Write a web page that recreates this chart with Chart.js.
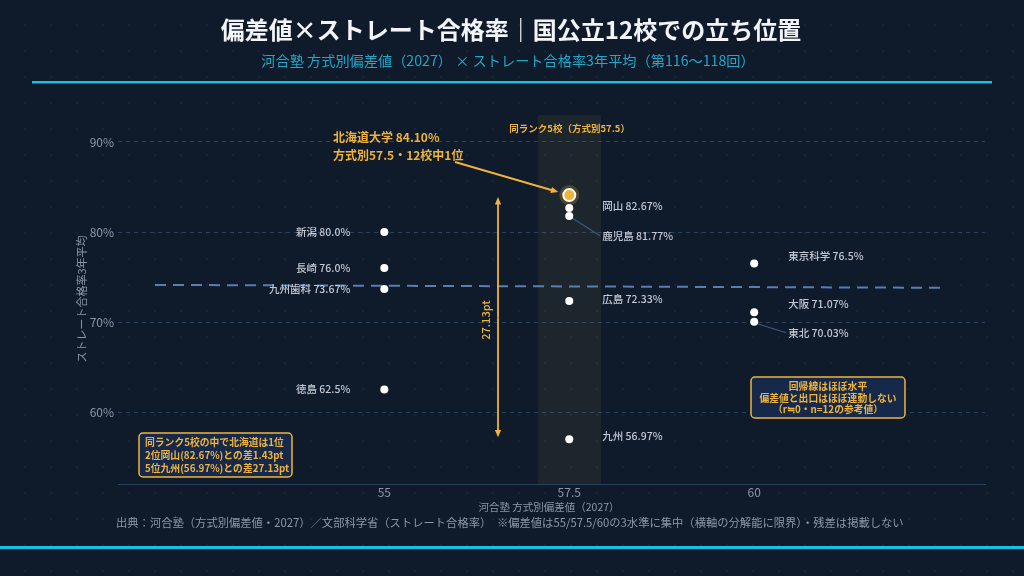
<!DOCTYPE html>
<html><head><meta charset="utf-8">
<script src="https://cdn.jsdelivr.net/npm/chart.js@4.4.1/dist/chart.umd.min.js"></script>
<style>
html,body{margin:0;padding:0;width:1024px;height:576px;overflow:hidden;
background: radial-gradient(circle, rgba(150,170,200,0.06) 1px, transparent 1.3px) 12px 12px/26px 26px, #0f1a2b;}
canvas{display:block}
</style></head><body>
<canvas id="c" width="1024" height="576"></canvas>
<script>
// ---- data ----
const schools   = ['北海道大学','岡山','鹿児島','広島','九州','新潟','長崎','九州歯科','徳島','東京科学','大阪','東北'];
const deviation = [57.5,57.5,57.5,57.5,57.5,55,55,55,55,60,60,60];
const rate      = [84.10,82.67,81.77,72.33,56.97,80.0,76.0,73.67,62.5,76.5,71.07,70.03];
const rateText  = ['84.10%','82.67%','81.77%','72.33%','56.97%','80.0%','76.0%','73.67%','62.5%','76.5%','71.07%','70.03%'];
const xTicks = [55,57.5,60];
const yTicks = [60,70,80,90];
const trendX = [51.9,62.6];
const trendY = [74.12,73.8];
const bandRange = [57.08,57.93];

// ---- layout/style (pixel offsets for labels) ----
// [dx, dy, align, leader]
const labelLayout = [
  null,
  [33,-2,'left',false],
  [33,20,'left',true],
  [33,-2,'left',false],
  [33,-3,'left',false],
  [-34,0,'right',false],
  [-34,0,'right',false],
  [-34,0,'right',false],
  [-34,0,'right',false],
  [34,-7,'left',false],
  [34,-8,'left',false],
  [34,11,'left',true]
];
const GOLD='#f0b43c', LBL='#c3c9d3', TICK='#8e97a7', GRID='#2b3f5e';
const FONT='"Noto Sans CJK JP","Noto Sans",sans-serif';

const others = [], hok = [];
schools.forEach((s,i)=>{ (i===0?hok:others).push({x:deviation[i],y:rate[i],i}); });

const overlay = {
  id:'overlay',
  beforeDatasetsDraw(chart){
    const {ctx, chartArea:a, scales:{x,y}} = chart;
    ctx.save();
    const x0=x.getPixelForValue(bandRange[0]), x1=x.getPixelForValue(bandRange[1]);
    ctx.fillStyle='rgba(230,200,80,0.07)';
    ctx.fillRect(x0,a.top,x1-x0,a.bottom-a.top);
    ctx.fillStyle=GOLD; ctx.font='bold 9.5px '+FONT; ctx.textAlign='center'; ctx.textBaseline='middle';
    ctx.fillText('同ランク5校（方式別57.5）',(x0+x1)/2,a.top+13);
    // halo
    const hx=x.getPixelForValue(deviation[0]), hy=y.getPixelForValue(rate[0]);
    ctx.beginPath(); ctx.arc(hx,hy,10,0,Math.PI*2); ctx.fillStyle='rgba(240,180,60,0.22)'; ctx.fill();
    // leader lines
    ctx.strokeStyle='#3d5a85'; ctx.lineWidth=1.2;
    schools.forEach((s,i)=>{
      const L=labelLayout[i]; if(!L||!L[3]) return;
      const px=x.getPixelForValue(deviation[i]), py=y.getPixelForValue(rate[i]);
      ctx.beginPath(); ctx.moveTo(px+3,py+2); ctx.lineTo(px+L[0]-2,py+L[1]); ctx.stroke();
    });
    ctx.restore();
  },
  afterDatasetsDraw(chart){
    const {ctx, chartArea:a, scales:{x,y}} = chart;
    ctx.save();
    // point labels
    ctx.font='500 10.5px '+FONT; ctx.fillStyle=LBL; ctx.textBaseline='middle';
    schools.forEach((s,i)=>{
      const L=labelLayout[i]; if(!L) return;
      const px=x.getPixelForValue(deviation[i]), py=y.getPixelForValue(rate[i]);
      ctx.textAlign=L[2];
      ctx.fillText(s+' '+rateText[i], px+L[0], py+L[1]);
    });
    // Hokkaido annotation
    ctx.fillStyle=GOLD; ctx.font='bold 12px '+FONT; ctx.textAlign='left';
    ctx.fillText(schools[0]+' '+rateText[0],333,137);
    ctx.fillText('方式別57.5・12校中1位',333,155);
    const hx=x.getPixelForValue(deviation[0]), hy=y.getPixelForValue(rate[0]);
    arrow(ctx,455,162,hx-11,hy-3,GOLD,2);
    // gap double arrow
    const ax=498, ay0=y.getPixelForValue(rate[0])+2, ay1=y.getPixelForValue(rate[4])-2;
    arrow(ctx,ax,(ay0+ay1)/2,ax,ay0,GOLD,1.8);
    arrow(ctx,ax,(ay0+ay1)/2,ax,ay1,GOLD,1.8);
    ctx.save(); ctx.translate(486,320); ctx.rotate(-Math.PI/2);
    ctx.font='500 11px '+FONT; ctx.textAlign='center'; ctx.fillStyle=GOLD; ctx.fillText('27.13pt',0,0); ctx.restore();
    // box 1
    box(ctx,139,433,153,44);
    ctx.fillStyle=GOLD; ctx.font='bold 9.8px '+FONT; ctx.textAlign='left';
    ctx.fillText('同ランク5校の中で北海道は1位',145,442);
    ctx.fillText('2位岡山(82.67%)との差1.43pt',145,455);
    ctx.fillText('5位九州(56.97%)との差27.13pt',145,468);
    // box 2
    box(ctx,751,377,154,41);
    ctx.fillStyle=GOLD; ctx.textAlign='center';
    ctx.fillText('回帰線はほぼ水平',828,386.5);
    ctx.fillText('偏差値と出口はほぼ連動しない',828,398);
    ctx.fillText('（r≒0・n=12の参考値）',828,409.5);
    ctx.restore();
  },
  afterDraw(chart){
    const {ctx} = chart;
    ctx.save();
    ctx.textAlign='center'; ctx.textBaseline='middle';
    ctx.fillStyle='#f2f4f7'; ctx.font='bold 24px '+FONT;
    ctx.fillText('偏差値×ストレート合格率｜国公立12校での立ち位置',511,30);
    ctx.fillStyle='#22a7c8'; ctx.font='14.2px '+FONT;
    ctx.fillText('河合塾 方式別偏差値（2027） × ストレート合格率3年平均（第116〜118回）',508,61);
    ctx.fillStyle='#17c0e6'; ctx.fillRect(32,81,960,2.5);
    ctx.fillRect(0,546,1024,3);
    ctx.fillStyle=TICK; ctx.font='10.5px '+FONT;
    ctx.fillText('河合塾 方式別偏差値（2027）',549,507);
    ctx.textAlign='left';
    ctx.font='11.3px '+FONT;
    ctx.fillText('出典：河合塾（方式別偏差値・2027）／文部科学省（ストレート合格率）　※偏差値は55/57.5/60の3水準に集中（横軸の分解能に限界）・残差は掲載しない',116,523);
    ctx.save(); ctx.translate(82,299); ctx.rotate(-Math.PI/2); ctx.textAlign='center';
    ctx.font='11px '+FONT; ctx.fillText('ストレート合格率3年平均',0,0); ctx.restore();
    ctx.restore();
  }
};
function arrow(ctx,x0,y0,x1,y1,col,w){
  const ang=Math.atan2(y1-y0,x1-x0), h=8;
  ctx.save(); ctx.strokeStyle=col; ctx.fillStyle=col; ctx.lineWidth=w;
  ctx.beginPath(); ctx.moveTo(x0,y0); ctx.lineTo(x1-Math.cos(ang)*h*0.8,y1-Math.sin(ang)*h*0.8); ctx.stroke();
  ctx.beginPath(); ctx.moveTo(x1,y1);
  ctx.lineTo(x1-h*Math.cos(ang-0.4),y1-h*Math.sin(ang-0.4));
  ctx.lineTo(x1-h*Math.cos(ang+0.4),y1-h*Math.sin(ang+0.4)); ctx.closePath(); ctx.fill();
  ctx.restore();
}
function box(ctx,x,y,w,h){
  ctx.save(); ctx.beginPath(); ctx.roundRect(x,y,w,h,4);
  ctx.fillStyle='#16294a'; ctx.fill(); ctx.strokeStyle=GOLD; ctx.lineWidth=1.5; ctx.stroke(); ctx.restore();
}

new Chart(document.getElementById('c'),{
  type:'scatter',
  data:{datasets:[
    {data:trendX.map((v,i)=>({x:v,y:trendY[i]})),type:'line',borderColor:'#5b7db0',borderWidth:2,borderDash:[11,7],pointRadius:0,fill:false,order:3},
    {data:others,pointRadius:4,pointBackgroundColor:'#ffffff',pointBorderColor:'#ffffff',pointBorderWidth:0,order:2},
    {data:hok,pointRadius:6,pointBackgroundColor:GOLD,pointBorderColor:'#ffffff',pointBorderWidth:2,order:1}
  ]},
  options:{
    responsive:false,animation:false,devicePixelRatio:1,
    layout:{padding:{top:115,right:39,left:0,bottom:0}},
    plugins:{legend:{display:false},tooltip:{enabled:false}},
    scales:{
      x:{type:'linear',min:51.4,max:63.12,
        afterBuildTicks(s){s.ticks=xTicks.map(v=>({value:v}));},
        afterFit(s){s.height=92;},
        grid:{display:false,drawTicks:false},
        border:{display:true,color:GRID,width:1},
        ticks:{color:TICK,font:{size:12,family:FONT},padding:1,callback:v=>String(v)}},
      y:{type:'linear',min:52,max:93,
        afterBuildTicks(s){s.ticks=yTicks.map(v=>({value:v}));},
        afterFit(s){s.width=118;},
        grid:{color:GRID,drawTicks:false,lineWidth:1},
        border:{display:false,dash:[4,4]},
        ticks:{color:TICK,font:{size:12,family:FONT},padding:4,callback:v=>v+'%'}}
    }
  },
  plugins:[overlay]
});
</script></body></html>
